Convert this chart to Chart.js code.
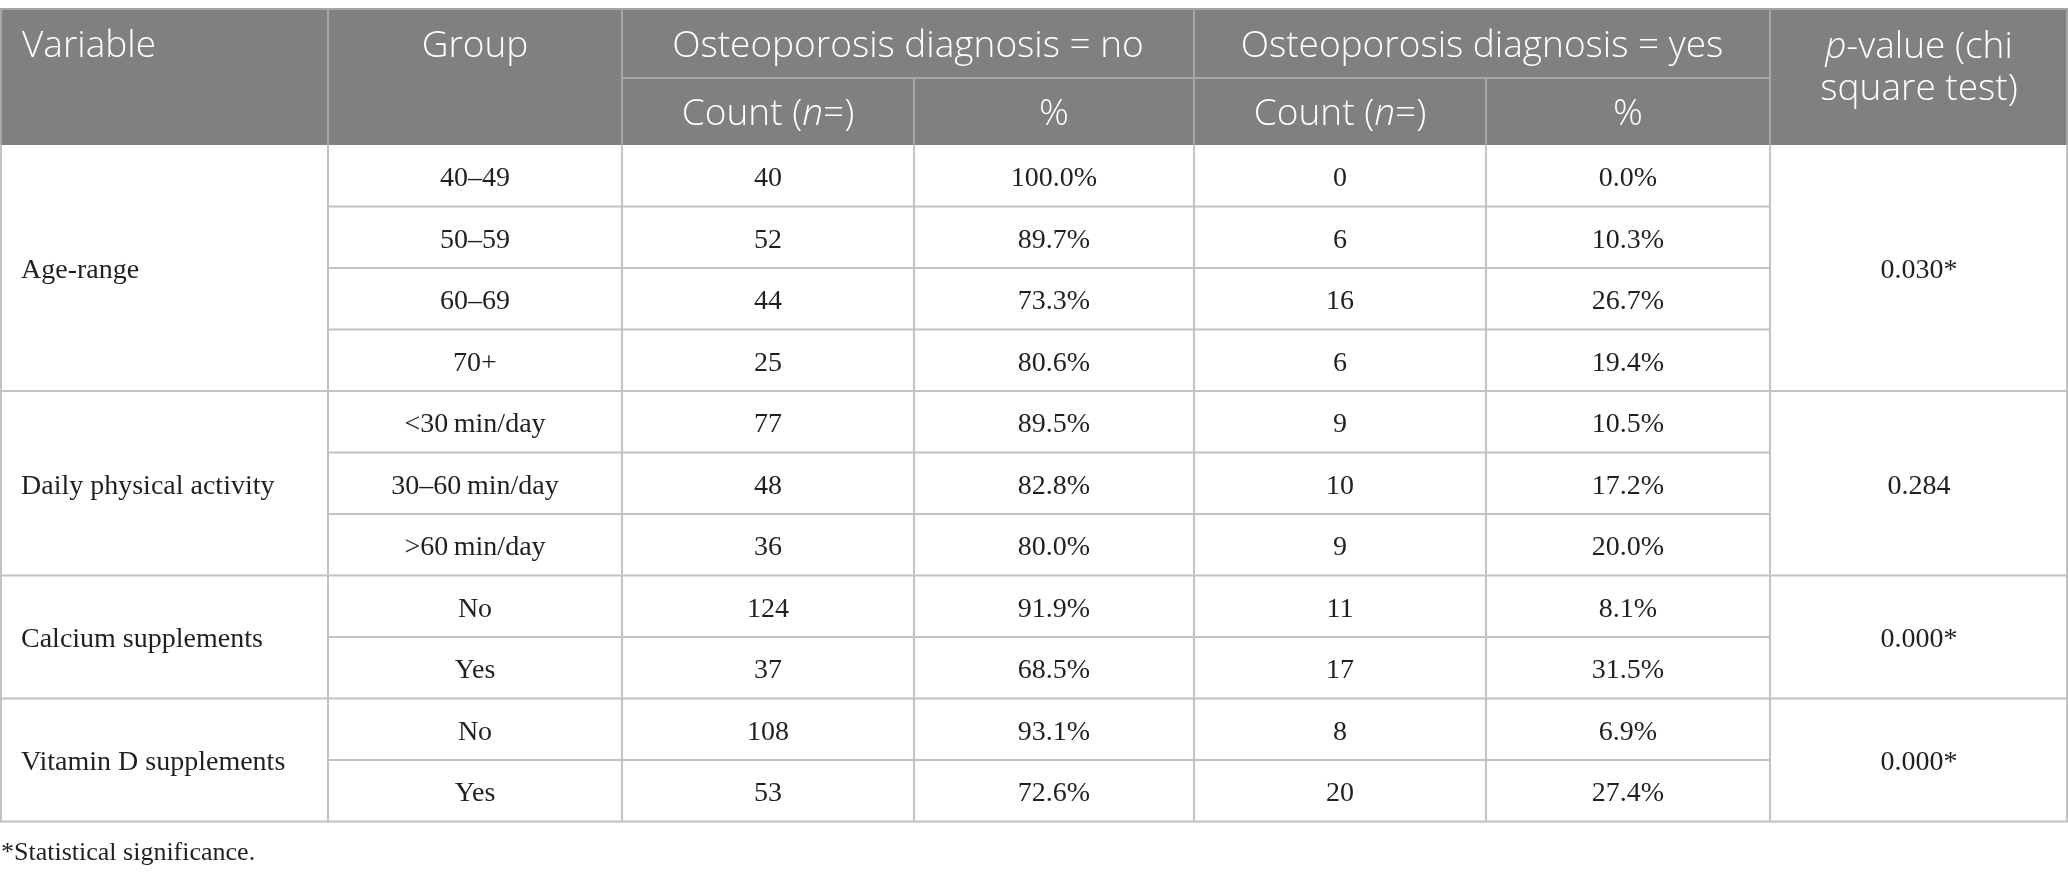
<!DOCTYPE html>
<html>
<head>
<meta charset="utf-8">
<script src="https://cdn.jsdelivr.net/npm/chart.js@4"></script>
<style>
  html, body { margin: 0; padding: 0; background: #fff; }
  #table-chart { display: block; }
</style>
</head>
<body>
<canvas id="table-chart" width="2068" height="879"></canvas>
<script>
// --- table data ---
const variables = ["Age-range", "Daily physical activity", "Calcium supplements", "Vitamin D supplements"];
const groupSizes = [4, 3, 2, 2];
const groups = ["40–49", "50–59", "60–69", "70+", "<30\u2009min/day", "30–60\u2009min/day", ">60\u2009min/day", "No", "Yes", "No", "Yes"];
const countNo = [40, 52, 44, 25, 77, 48, 36, 124, 37, 108, 53];
const pctNo = [100.0, 89.7, 73.3, 80.6, 89.5, 82.8, 80.0, 91.9, 68.5, 93.1, 72.6];
const countYes = [0, 6, 16, 6, 9, 10, 9, 11, 17, 8, 20];
const pctYes = [0.0, 10.3, 26.7, 19.4, 10.5, 17.2, 20.0, 8.1, 31.5, 6.9, 27.4];
const pValues = ["0.030*", "0.284", "0.000*", "0.000*"];
const footnote = "*Statistical significance.";

// --- layout (scale units) ---
const colEdges = [0, 328, 622, 914, 1194, 1486, 1770, 2068];
const tableTop = 9, headSplit = 78, headBottom = 145, rowH = 61.5;
const bodyBottom = headBottom + groups.length * rowH;

const colMid = (c) => (colEdges[c] + colEdges[c + 1]) / 2;
const rowMid = (r) => headBottom + (r + 0.5) * rowH;

// first row index of each variable block
const groupStart = [];
groupSizes.reduce((acc, n) => { groupStart.push(acc); return acc + n; }, 0);
const blockMid = (g) => headBottom + (groupStart[g] + groupSizes[g] / 2) * rowH;

const cellPoints = (col, values, fmt) =>
  values.map((v, i) => ({ x: colMid(col), y: rowMid(i), text: fmt(v) }));

const datasets = [
  { label: "Variable", align: "left", data: variables.map((v, g) => ({ x: 21, y: blockMid(g), text: v })) },
  { label: "Group", data: cellPoints(1, groups, (v) => v) },
  { label: "Count no", data: cellPoints(2, countNo, (v) => String(v)) },
  { label: "% no", data: cellPoints(3, pctNo, (v) => v.toFixed(1) + "%") },
  { label: "Count yes", data: cellPoints(4, countYes, (v) => String(v)) },
  { label: "% yes", data: cellPoints(5, pctYes, (v) => v.toFixed(1) + "%") },
  { label: "p-value", data: pValues.map((v, g) => ({ x: colMid(6), y: blockMid(g), text: v })) }
];
datasets.forEach((d) => { d.pointRadius = 0; d.showLine = false; });

const HEAD_BG = "#7f807f";
const HEAD_LINE = "#a6a6a6";
const BODY_LINE = "#c2c2c2";
const HEAD_FONT = "300 37px 'Open Sans'";
const HEAD_FONT_IT = "italic 300 37px 'Open Sans'";
const BODY_FONT = "28px 'Liberation Serif'";

// draw text made of [string, italic] parts, centred on x
function drawParts(ctx, parts, x, y, align) {
  const widths = parts.map(([s, it]) => { ctx.font = it ? HEAD_FONT_IT : HEAD_FONT; return ctx.measureText(s).width; });
  const total = widths.reduce((a, b) => a + b, 0);
  let cx = align === "left" ? x : x - total / 2;
  parts.forEach(([s, it], i) => {
    ctx.font = it ? HEAD_FONT_IT : HEAD_FONT;
    ctx.textAlign = "left";
    ctx.fillText(s, cx, y);
    cx += widths[i];
  });
}

const tablePlugin = {
  id: "tableGrid",
  beforeDatasetsDraw(chart) {
    const { ctx, scales: { x, y } } = chart;
    const X = (v) => x.getPixelForValue(v);
    const Y = (v) => y.getPixelForValue(v);
    const line = (x1, y1, x2, y2, color) => {
      ctx.strokeStyle = color;
      ctx.beginPath();
      ctx.moveTo(X(x1), Y(y1));
      ctx.lineTo(X(x2), Y(y2));
      ctx.stroke();
    };
    ctx.save();
    ctx.lineWidth = 2;

    // header block
    ctx.fillStyle = HEAD_BG;
    ctx.fillRect(X(0), Y(tableTop), X(2068) - X(0), Y(headBottom) - Y(tableTop));
    line(0, tableTop, 2068, tableTop, HEAD_LINE);
    line(colEdges[2], headSplit, colEdges[6], headSplit, HEAD_LINE);
    [1, 2, 4, 6].forEach((c) => line(colEdges[c], tableTop, colEdges[c], headBottom, HEAD_LINE));
    [3, 5].forEach((c) => line(colEdges[c], headSplit, colEdges[c], headBottom, HEAD_LINE));
    line(1, tableTop, 1, headBottom, HEAD_LINE);
    line(2067, tableTop, 2067, headBottom, HEAD_LINE);

    // body grid
    for (let r = 1; r < groups.length; r++) {
      const yy = headBottom + r * rowH;
      if (groupStart.includes(r)) line(0, yy, 2068, yy, BODY_LINE);
      else line(colEdges[1], yy, colEdges[6], yy, BODY_LINE);
    }
    line(0, bodyBottom, 2068, bodyBottom, BODY_LINE);
    line(1, headBottom, 1, bodyBottom, BODY_LINE);
    line(2067, headBottom, 2067, bodyBottom, BODY_LINE);
    for (let c = 1; c < 7; c++) line(colEdges[c], headBottom, colEdges[c], bodyBottom, BODY_LINE);

    // header text
    ctx.fillStyle = "#ffffff";
    ctx.textBaseline = "middle";
    const h1 = Y((tableTop + headSplit) / 2 + 3);
    const h2 = Y((headSplit + headBottom) / 2 + 3);
    drawParts(ctx, [["Variable", false]], X(22), h1, "left");
    drawParts(ctx, [["Group", false]], X(colMid(1)), h1);
    drawParts(ctx, [["Osteoporosis diagnosis = no", false]], X((colEdges[2] + colEdges[4]) / 2), h1);
    drawParts(ctx, [["Osteoporosis diagnosis = yes", false]], X((colEdges[4] + colEdges[6]) / 2), h1);
    [2, 4].forEach((c) => drawParts(ctx, [["Count (", false], ["n", true], ["=)", false]], X(colMid(c)), h2));
    [3, 5].forEach((c) => drawParts(ctx, [["%", false]], X(colMid(c)), h2));
    drawParts(ctx, [["p", true], ["-value (chi", false]], X(colMid(6)), Y(47));
    drawParts(ctx, [["square test)", false]], X(colMid(6)), Y(89));

    // footnote
    ctx.fillStyle = "#231f20";
    ctx.font = "26px 'Liberation Serif'";
    ctx.textAlign = "left";
    ctx.fillText(footnote, X(1), Y(853));
    ctx.restore();
  },
  afterDatasetsDraw(chart) {
    const { ctx } = chart;
    ctx.save();
    ctx.fillStyle = "#231f20";
    ctx.font = BODY_FONT;
    ctx.textBaseline = "middle";
    chart.data.datasets.forEach((ds, i) => {
      ctx.textAlign = ds.align || "center";
      chart.getDatasetMeta(i).data.forEach((pt, j) => {
        ctx.fillText(ds.data[j].text, pt.x, pt.y + 3);
      });
    });
    ctx.restore();
  }
};

document.fonts.load(HEAD_FONT).then(() => document.fonts.load(BODY_FONT)).finally(() => {
  new Chart(document.getElementById("table-chart"), {
    type: "scatter",
    data: { datasets },
    options: {
      responsive: false,
      animation: false,
      devicePixelRatio: 1,
      layout: { padding: 0 },
      events: [],
      scales: {
        x: { type: "linear", min: 0, max: 2068, display: false },
        y: { type: "linear", min: 0, max: 879, reverse: true, display: false }
      },
      plugins: { legend: { display: false }, tooltip: { enabled: false } }
    },
    plugins: [tablePlugin]
  });
});
</script>
</body>
</html>
